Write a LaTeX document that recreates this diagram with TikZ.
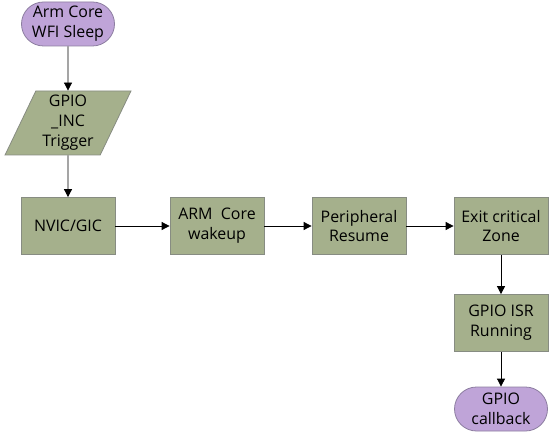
\documentclass[tikz,border=0pt]{standalone}
\usepackage{fontspec}
\setmainfont{Open Sans}
\usetikzlibrary{positioning,arrows.meta,shapes.geometric}
\definecolor{boxgreen}{RGB}{165,176,140}
\definecolor{boxline}{RGB}{135,140,130}
\definecolor{termpurple}{RGB}{191,164,216}
\definecolor{termline}{RGB}{140,125,160}

\begin{document}
\begin{tikzpicture}[x=1bp, y=1bp, node distance=142bp, on grid, auto,
    >={Triangle[length=8bp,width=8bp]}, line width=0.8bp,
    font=\fontsize{16}{20}\selectfont,
    blk/.style={draw=boxline, fill=boxgreen, minimum width=94bp,
      minimum height=57bp, align=center, inner sep=1bp},
    term/.style={draw=termline, fill=termpurple, rounded corners=22bp,
      minimum width=93bp, minimum height=44bp, align=center, inner sep=1bp},
    io/.style={trapezium, trapezium left angle=66, trapezium right angle=114,
      trapezium stretches=true, draw=boxline, fill=boxgreen,
      minimum width=126bp, minimum height=64bp, align=center, inner sep=0bp}]
    \useasboundingbox (0,0) rectangle (553,-440);
    \node[term] (sleep) at (68,-24) {Arm Core\\WFI Sleep};%
    \node[io, below=99bp of sleep] (trig) {GPIO\\\_INC\\Trigger};%
    \node[blk, below=103bp of trig] (nvic) {NVIC/GIC};%
    \node[blk, right=149bp of nvic] (wake) {ARM~~Core\\wakeup};%
    \node[blk, right=of wake] (resume) {Peripheral\\Resume};%
    \node[blk, right=of resume] (exit) {Exit critical\\Zone};%
    \node[blk, below=97bp of exit] (isr) {GPIO ISR\\Running};%
    \node[term, below=86bp of isr] (cb) {GPIO\\callback};%
    \path[->] (sleep) edge (trig)%
    (trig) edge (nvic)%
    (nvic) edge (wake)%
    (wake) edge (resume)%
    (resume) edge (exit)%
    (exit) edge (isr)%
    (isr) edge (cb);%
  \end{tikzpicture}
\end{document}
